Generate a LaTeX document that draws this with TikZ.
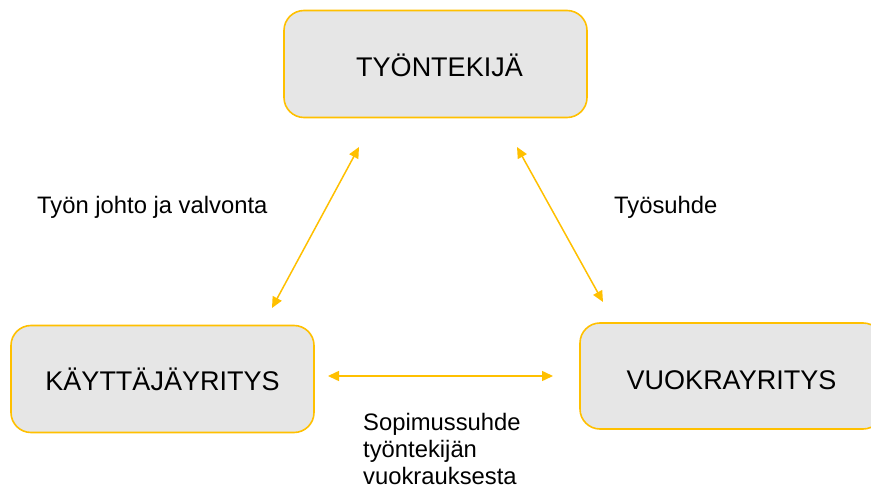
\documentclass[tikz,border=0pt]{standalone}
\usepackage{fontspec}
\setmainfont{Liberation Sans}
\usetikzlibrary{arrows.meta}
\definecolor{gold}{HTML}{FFC000}
\definecolor{boxgray}{HTML}{E6E6E6}
\tikzset{
  entity/.style={draw=gold, line width=1.6pt, fill=boxgray, rounded corners=20pt,
    minimum width=303pt, minimum height=107pt, inner sep=0pt,
    text depth=0pt, font=\fontsize{27pt}{31pt}\selectfont},
  rel/.style={draw=gold, line width=1.5pt, {Triangle[length=11pt,width=10pt]}-{Triangle[length=11pt,width=10pt]}},
  lbl/.style={inner sep=0pt, font=\fontsize{23.8pt}{27pt}\selectfont, align=left}
}
\begin{document}
\begin{tikzpicture}[x=1pt,y=-1pt]
\useasboundingbox (0,0) rectangle (871,489);
\fill[white] (0,0) rectangle (871,489);
\node[entity, text height=25.5pt] (tyo) at (435.5,64) {\kern8pt TYÖNTEKIJÄ};
\node[entity, text height=22pt] (kay) at (162.5,379) {KÄYTTÄJÄYRITYS};
\node[entity, minimum height=106pt, text height=27.5pt] (vuo) at (731.5,376) {VUOKRAYRITYS};
\coordinate (l1) at (272,308);
\coordinate (l2) at (359,147);
\coordinate (r1) at (517,147);
\coordinate (r2) at (603,302);
\coordinate (h1) at (328,376);
\coordinate (h2) at (553,376);
\draw[rel] (l1) -- (l2);
\draw[rel] (r1) -- (r2);
\draw[rel] (h1) -- (h2);
\node[lbl, anchor=base west] (johto) at (37,214) {Työn johto ja valvonta};
\node[lbl, anchor=base west] (suhde) at (614,214) {Työsuhde};
\node[lbl, anchor=base west] (sop1) at (363,430) {Sopimussuhde};
\node[lbl, anchor=base west] (sop2) at (363,457) {työntekijän};
\node[lbl, anchor=base west] (sop3) at (363,484) {vuokrauksesta};
\end{tikzpicture}
\end{document}
